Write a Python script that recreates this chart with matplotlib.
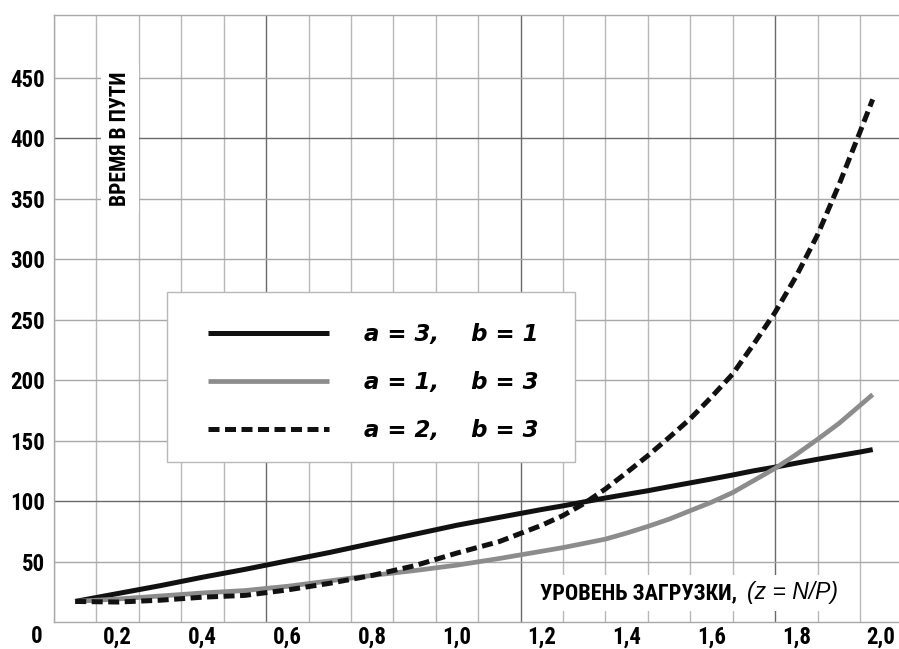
import numpy as np
import matplotlib.pyplot as plt
from matplotlib.patches import Rectangle

# load level z and travel time for the three parameter sets
z = [0.1, 0.2, 0.3, 0.4, 0.5, 0.6, 0.7, 0.8, 0.9, 1.0, 1.1, 1.2,
     1.25, 1.3, 1.35, 1.4, 1.45, 1.5, 1.55, 1.6, 1.65, 1.7, 1.75,
     1.8, 1.85, 1.9, 1.95, 1.98]
t_a3_b1 = [17, 23.5, 30, 37, 43.5, 50.5, 57.5, 65, 72.5, 80, 86.5, 93,
           96, 99.3, 102.5, 105.5, 108.5, 111.8, 115, 118.2, 121.5, 125, 128,
           131.3, 134.5, 137.5, 140.5, 142.5]
t_a1_b3 = [17, 19, 21.5, 24, 26, 29.5, 34, 38.5, 42.5, 47, 52.5, 58.5,
           61.5, 65, 68.5, 73.5, 79, 85, 92, 99, 107, 117, 127,
           138.5, 151, 164, 179, 188]
t_a2_b3 = [17, 16.5, 18, 20.5, 22, 26.5, 32, 38.5, 46.5, 57, 66.5, 80,
           88, 98, 110, 123.5, 137.5, 152.5, 168, 186, 205, 230, 256,
           286, 320, 361, 405, 432]
labels = ["a = 3,    b = 1", "a = 1,    b = 3", "a = 2,    b = 3"]

x_ticks = [0.2, 0.4, 0.6, 0.8, 1.0, 1.2, 1.4, 1.6, 1.8, 2.0]
x_ticklabels = ["0,2", "0,4", "0,6", "0,8", "1,0", "1,2", "1,4", "1,6", "1,8", "2,0"]
y_ticks = [50, 100, 150, 200, 250, 300, 350, 400, 450]

COND = ["Noto Sans ExtraCondensed Black", "Noto Sans ExtraCondensed",
        "Noto Sans Condensed", "Roboto Condensed", "Liberation Sans Narrow",
        "Liberation Sans", "DejaVu Sans"]
SANS = ["Liberation Sans", "DejaVu Sans"]

fig = plt.figure(figsize=(8.99, 6.49), dpi=100)
ax = fig.add_axes([54 / 899, 27 / 649, 845 / 899, 607 / 649])
ax.set_xlim(0.05, 2.042)
ax.set_ylim(0, 501.7)

# grid: thin lines every 0.1 / 50, every sixth one darker
for k in range(20):
    xv = 0.05 + 0.1 * k
    dark = k % 6 == 5
    ax.axvline(xv, color="#6a6a6a" if dark else "#b8b8b8", lw=1.0, zorder=0.5)
for yv in y_ticks:
    dark = yv in (100, 400)
    ax.axhline(yv, color="#6a6a6a" if dark else "#a8a8a8", lw=1.0, zorder=0.5)

for side in ["left", "top", "bottom"]:
    ax.spines[side].set_color("#a8a8a8")
    ax.spines[side].set_linewidth(1.0)
ax.spines["right"].set_visible(False)

ax.set_xticks(x_ticks)
ax.set_xticklabels(x_ticklabels)
ax.set_yticks(y_ticks)
ax.tick_params(axis="x", length=0, pad=3)
ax.tick_params(axis="y", length=0, pad=6.5)
for lab in ax.get_xticklabels() + ax.get_yticklabels():
    lab.set_fontfamily(COND)
    lab.set_fontweight("bold")
    lab.set_fontsize(16.5)
# origin label sits left of the axes, on the tick-label row
ax.annotate("0", xy=(0, 0), xycoords="axes fraction", xytext=(-12.3, -2.2),
            textcoords="offset points", ha="center", va="top",
            family=COND, fontweight="bold", fontsize=16.5, annotation_clip=False)

l1, = ax.plot(z, t_a3_b1, color="#111111", lw=3.6, solid_capstyle="butt", zorder=3)
l2, = ax.plot(z, t_a1_b3, color="#8c8c8c", lw=3.4, solid_capstyle="butt", zorder=3)
l3, = ax.plot(z, t_a2_b3, color="#111111", lw=3.6, linestyle=(0, (2.2, 1.1)),
              dash_capstyle="butt", zorder=3)

# legend box
ax.add_patch(Rectangle((0.1337, 0.2636), 0.4828, 0.2801, transform=ax.transAxes,
                       facecolor="white", edgecolor="#b8b8b8", lw=1.0, zorder=4))
leg = ax.legend([l1, l2, l3], labels, loc="upper left",
                bbox_to_anchor=(0.1822, 0.493), borderaxespad=0, borderpad=0,
                frameon=False, handlelength=5.3, handletextpad=1.5,
                labelspacing=1.1,
                prop=dict(family="DejaVu Sans", weight="bold", style="italic", size=16.5))
leg.set_zorder(5)

ax.text(0.0781, 0.7965, "ВРЕМЯ В ПУТИ", rotation=90, ha="center", va="center",
        transform=ax.transAxes, family=COND, fontweight="bold", fontsize=15.5,
        bbox=dict(boxstyle="square,pad=0.35", facecolor="white", edgecolor="none"),
        zorder=2)
ax.text(0.8083, 0.0478, "УРОВЕНЬ ЗАГРУЗКИ,", ha="right", va="center",
        transform=ax.transAxes, family=COND, fontweight="bold", fontsize=16,
        bbox=dict(boxstyle="square,pad=0.3", facecolor="white", edgecolor="none"),
        zorder=2)
ax.text(0.8201, 0.0478, "(z = N/P)", ha="left", va="center",
        transform=ax.transAxes, family=SANS, style="italic", fontsize=16.5,
        bbox=dict(boxstyle="square,pad=0.3", facecolor="white", edgecolor="none"),
        zorder=2)

fig.savefig("out.png", dpi=100, facecolor="white")
